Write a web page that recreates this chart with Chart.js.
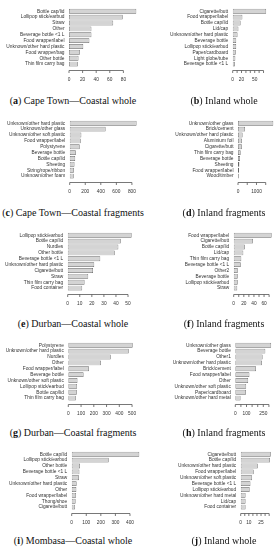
<!DOCTYPE html>
<html><head><meta charset="utf-8">
<script src="https://cdn.jsdelivr.net/npm/chart.js@4.4.1/dist/chart.umd.min.js"></script>
<style>
html,body{margin:0;padding:0;background:#fff}
body{width:279px;height:550px;position:relative;overflow:hidden}
canvas{position:absolute}
.cap{position:absolute;font-family:"Liberation Serif","DejaVu Serif",serif;font-size:10px;line-height:12px;white-space:nowrap;transform:translate(-50%,-50%);color:#111}
</style></head><body>
<script>
// ---- data ----
const catsA = ['Bottle cap/lid','Lollipop stick/earbud','Straw','Other','Beverage bottle <1 L','Food wrapper/label','Unknown/other hard plastic','Food wrapper/bag','Other bottle','Thin film carry bag'];
const valsA = [99,79,65,33,33,30,21,16,14,13];
const ticksA = [0,20,40,60,80];
const shownA = [0,20,40,60,80];

const catsB = ['Cigarette/butt','Food wrapper/label','Bottle cap/lid','Lid/cap','Unknown/other hard plastic','Beverage bottle','Lollipop stick/earbud','Paper/cardboard','Light globe/tube','Beverage bottle <1 L'];
const valsB = [76,22,18,13,11,8,8,7,6,5];
const ticksB = [0,10,20,30,40,50,60,70];
const shownB = [0,20,50];

const catsC = ['Unknown/other hard plastic','Unknown/other glass','Unknown/other soft plastic','Food wrapper/label','Polystyrene','Beverage bottle','Bottle cap/lid','Sheeting','String/rope/ribbon','Unknown/other foam'];
const valsC = [860,462,150,142,129,79,71,62,54,52];
const ticksC = [0,200,400,600,800];
const shownC = [0,200,400,600,800];

const catsD = ['Unknown/other glass','Brick/cement','Unknown/other hard plastic','Aluminium foil','Cigarette/butt','Thin film carry bag','Beverage bottle','Sheeting','Food wrapper/label','Wood/timber'];
const valsD = [1910,380,250,215,210,145,110,75,55,40];
const ticksD = [0,500,1000,1500];
const shownD = [0,1000];

const catsE = ['Lollipop stick/earbud','Bottle cap/lid','Nurdles','Other bottle','Beverage bottle <1 L','Unknown/other hard plastic','Cigarette/butt','Straw','Thin film carry bag','Food container'];
const valsE = [53,44,42,39,27,22,21,17,14,12];
const ticksE = [0,10,20,30,40,50];
const shownE = [0,10,20,30,40,50];

const catsF = ['Food wrapper/label','Cigarette/butt','Bottle cap/lid','Lid/cap','Thin film carry bag','Beverage bottle <1 L','Other2','Beverage bottle','Lollipop stick/earbud','Straw'];
const valsF = [75,38,22,19,15,14,8,8,8,7];
const ticksF = [0,10,20,30,40,50,60,70];
const shownF = [0,20,40,60];

const catsG = ['Polystyrene','Unknown/other hard plastic','Nurdles','Other','Food wrapper/label','Beverage bottle','Unknown/other soft plastic','Lollipop stick/earbud','Bottle cap/lid','Thin film carry bag'];
const valsG = [505,474,333,256,162,120,72,69,67,59];
const ticksG = [0,100,200,300,400,500];
const shownG = [0,100,200,300,400,500];

const catsH = ['Unknown/other glass','Beverage bottle','Other1','Unknown/other hard plastic','Brick/cement','Food wrapper/label','Other','Unknown/other soft plastic','Paper/cardboard','Unknown/other hard metal'];
const valsH = [320,268,244,238,185,126,115,97,95,47];
const ticksH = [0,50,100,150,200,250,300];
const shownH = [0,100,250];

const catsI = ['Bottle cap/lid','Lollipop stick/earbud','Other bottle','Beverage bottle <1 L','Straw','Unknown/other hard plastic','Other','Food wrapper/label','Thong/shoe','Cigarette/butt'];
const valsI = [464,254,57,53,50,34,32,30,27,23];
const ticksI = [0,100,200,300,400];
const shownI = [0,100,200,300,400];

const catsJ = ['Cigarette/butt','Bottle cap/lid','Unknown/other hard plastic','Food wrapper/label','Unknown/other soft plastic','Beverage bottle <1 L','Lollipop stick/earbud','Unknown/other hard metal','Lid/cap','Food container'];
const valsJ = [37,36,21,16,14,12,11,6,6,6];
const ticksJ = [0,5,10,15,20,25,30,35];
const shownJ = [0,10,25];

const letters = ['a','b','c','d','e','f','g','h','i','j'];
const captions = ['Cape Town\u2014Coastal whole','Inland whole','Cape Town\u2014Coastal fragments','Inland fragments','Durban\u2014Coastal whole','Inland fragments','Durban\u2014Coastal fragments','Inland fragments','Mombasa\u2014Coastal whole','Inland whole'];

// ---- layout (pixels) ----
const panels = [
  {c:catsA,v:valsA,t:ticksA,s:shownA},{c:catsB,v:valsB,t:ticksB,s:shownB},
  {c:catsC,v:valsC,t:ticksC,s:shownC},{c:catsD,v:valsD,t:ticksD,s:shownD},
  {c:catsE,v:valsE,t:ticksE,s:shownE},{c:catsF,v:valsF,t:ticksF,s:shownF},
  {c:catsG,v:valsG,t:ticksG,s:shownG},{c:catsH,v:valsH,t:ticksH,s:shownH},
  {c:catsI,v:valsI,t:ticksI,s:shownI},{c:catsJ,v:valsJ,t:ticksJ,s:shownJ}
];
const plotLeft  = [69,232.7,69.7,238,67.7,233.7,68.3,235.3,71.7,240.7];
const plotRight = [139,267.5,140.5,274.7,134.2,275.3,136.6,273,142,275.3];
const rowTop = [4.5,116.5,228.5,338.5,447.5];
const capY = [101,213,324,433,541];
const colX = [0,139], colW = [146,140], capX = [73,224];
const plotH = 62, topPad = 4, xAxisH = 20;

panels.forEach((p,i)=>{
  const col = i%2, row = Math.floor(i/2);
  const cv = document.createElement('canvas');
  const H = topPad + plotH + xAxisH;
  cv.width = colW[col]; cv.height = H;
  cv.style.left = colX[col]+'px';
  cv.style.top = (rowTop[row]-topPad)+'px';
  document.body.appendChild(cv);
  const yW = plotLeft[i]-colX[col];
  const padR = colX[col]+colW[col]-plotRight[i];
  const axisPlugin = {
    id:'rAxis'+i,
    afterDraw(chart){
      const xs = chart.scales.x, ctx = chart.ctx;
      const y0 = Math.round(chart.chartArea.bottom + 3) + 0.5;
      ctx.save();
      ctx.strokeStyle = '#555'; ctx.lineWidth = 0.8;
      ctx.beginPath();
      ctx.moveTo(xs.getPixelForValue(p.t[0]), y0);
      ctx.lineTo(xs.getPixelForValue(p.t[p.t.length-1]), y0);
      p.t.forEach(v=>{ const x = xs.getPixelForValue(v); ctx.moveTo(x,y0); ctx.lineTo(x,y0+2.5); });
      ctx.stroke();
      ctx.restore();
    }
  };
  new Chart(cv,{
    type:'bar',
    data:{labels:p.c,datasets:[{data:p.v,backgroundColor:'#d4d4d4',borderColor:'#666',borderWidth:0.7,borderSkipped:false,barPercentage:0.833,categoryPercentage:1}]},
    options:{
      indexAxis:'y',responsive:false,animation:false,devicePixelRatio:1,
      layout:{padding:{top:topPad,right:padR,left:0,bottom:0}},
      plugins:{legend:{display:false},tooltip:{enabled:false}},
      scales:{
        x:{type:'linear',min:0,max:Math.max(...p.v)*1.04,
           grid:{display:false,drawTicks:false},border:{display:false},
           afterFit(s){s.height = xAxisH;},
           afterBuildTicks(s){s.ticks = p.t.map(v=>({value:v}));},
           ticks:{autoSkip:false,maxRotation:0,padding:9.5,color:'#333',
             font:{family:'Liberation Sans',size:4.8},
             callback:(v)=>p.s.includes(v)?String(v):''}},
        y:{grid:{display:false,drawTicks:false},border:{display:false},
           afterFit(s){s.width = yW;},
           ticks:{autoSkip:false,padding:4.5,color:'#333',
             font:{family:'Liberation Sans',size:4.8}}}
      }
    },
    plugins:[axisPlugin]
  });
  const d = document.createElement('div');
  d.className='cap';
  d.style.left = capX[col]+'px'; d.style.top = capY[row]+'px';
  d.innerHTML = '(<b>'+letters[i]+'</b>) '+captions[i];
  document.body.appendChild(d);
});
</script>
</body></html>
